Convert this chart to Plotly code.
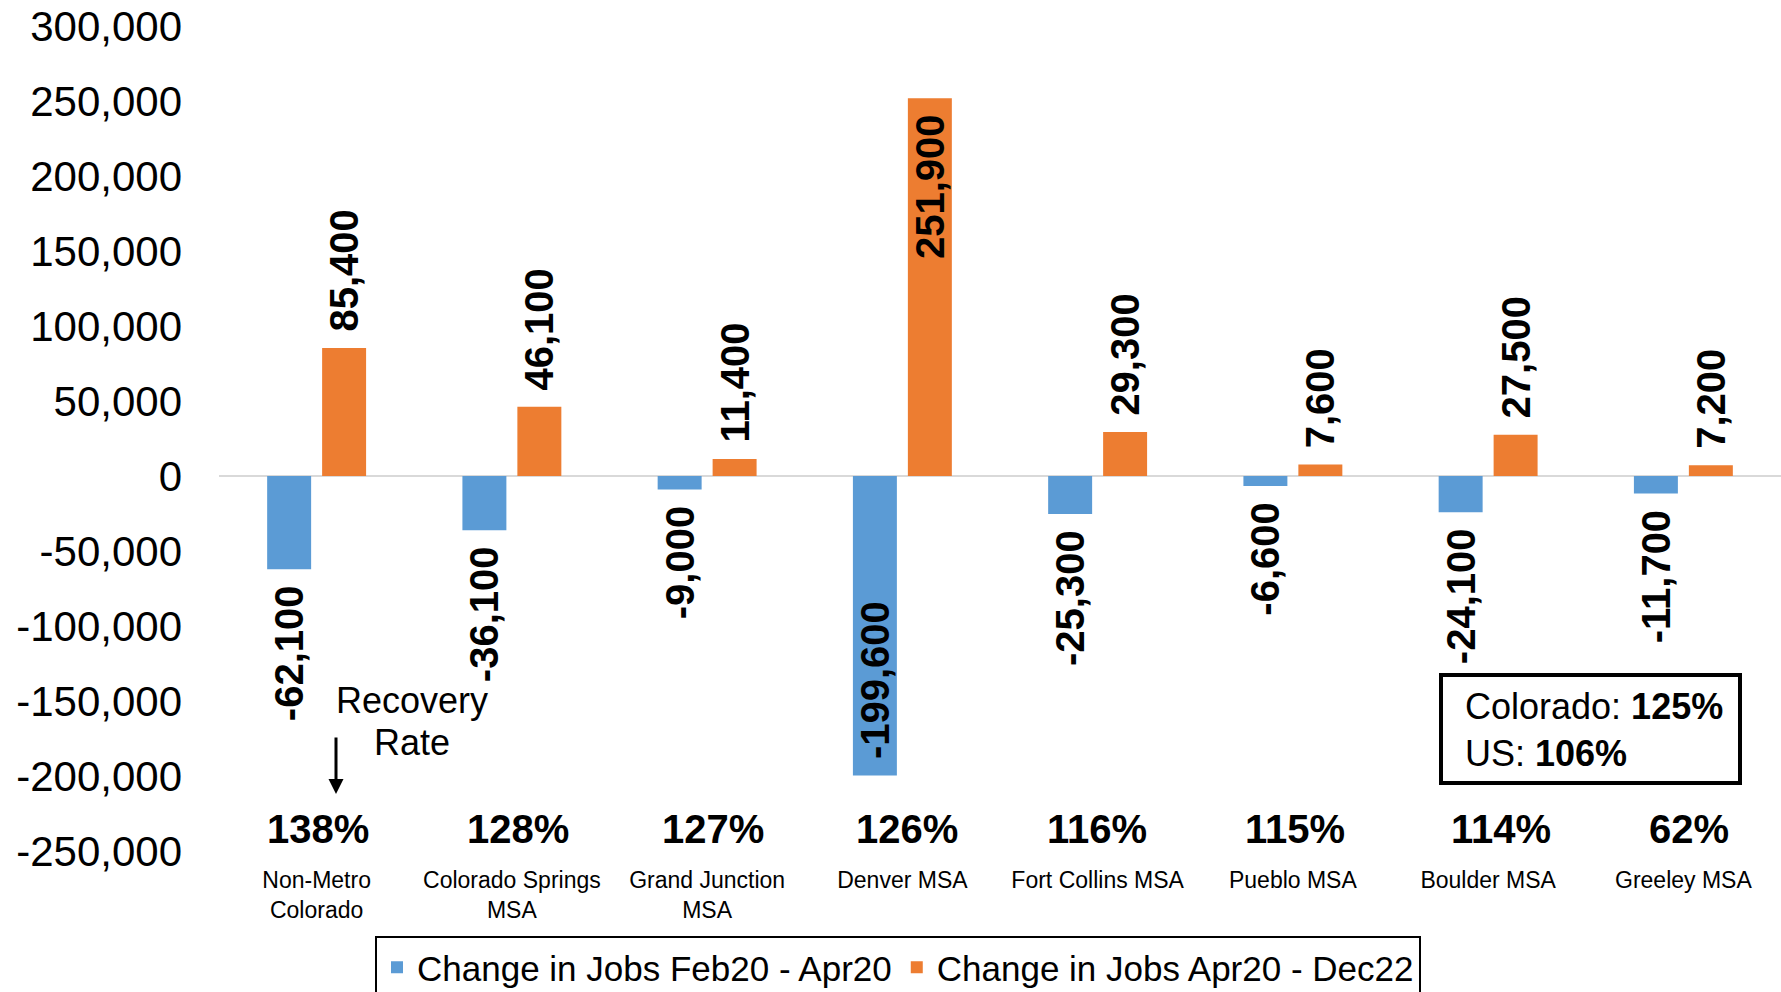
import plotly.graph_objects as go

categories = ["Non-Metro Colorado", "Colorado Springs MSA", "Grand Junction MSA", "Denver MSA",
              "Fort Collins MSA", "Pueblo MSA", "Boulder MSA", "Greeley MSA"]
tick_labels = ["Non-Metro<br>Colorado", "Colorado Springs<br>MSA", "Grand Junction<br>MSA", "Denver MSA",
               "Fort Collins MSA", "Pueblo MSA", "Boulder MSA", "Greeley MSA"]
loss_feb_apr20 = [-62100, -36100, -9000, -199600, -25300, -6600, -24100, -11700]
gain_apr20_dec22 = [85400, 46100, 11400, 251900, 29300, 7600, 27500, 7200]
recovery_rate = ["138%", "128%", "127%", "126%", "116%", "115%", "114%", "62%"]
y_ticks = [-250000, -200000, -150000, -100000, -50000, 0, 50000, 100000, 150000, 200000, 250000, 300000]
colorado_rate = "125%"
us_rate = "106%"

FONT = "Liberation Sans, Arial, sans-serif"
BLUE = "#5B9BD5"
ORANGE = "#ED7D31"

# page geometry (body margin removed below, so figure fills the page)
PAGE_W, PAGE_H = 1781, 992
OFF = 0
W, H = PAGE_W - OFF, PAGE_H - OFF
PL, PT, PB = 219, 26, 851          # plot area in page pixels
L, T, B, R = PL - OFF, PT - OFF, PAGE_H - PB, 0
PW, PH = W - L - R, H - T - B


def px(x):
    return (x - PL) / PW


def py(y):
    return (PB - y) / PH


def fmt(v):
    return f"{v:,}"


SP = "\u2004"
inside_idx = [i for i, v in enumerate(gain_apr20_dec22) if v == max(gain_apr20_dec22)]

loss_text, loss_pos = [], []
for i, v in enumerate(loss_feb_apr20):
    if i in inside_idx:
        loss_text.append(SP + fmt(v))
        loss_pos.append("inside")
    else:
        loss_text.append(fmt(v) + SP)
        loss_pos.append("outside")

gain_text, gain_pos = [], []
for i, v in enumerate(gain_apr20_dec22):
    if i in inside_idx:
        gain_text.append(fmt(v) + SP)
        gain_pos.append("inside")
    else:
        gain_text.append(SP + fmt(v))
        gain_pos.append("outside")

label_font = dict(family=FONT, size=40, color="black", weight="bold")

fig = go.Figure()
fig.add_trace(go.Bar(
    x=categories, y=loss_feb_apr20, name="Change in Jobs Feb20 - Apr20",
    marker=dict(color=BLUE, line=dict(width=0)),
    text=loss_text, textposition=loss_pos, textangle=-90,
    insidetextanchor="end", constraintext="none", cliponaxis=False,
    textfont=label_font, insidetextfont=label_font, outsidetextfont=label_font,
    hoverinfo="skip",
))
fig.add_trace(go.Bar(
    x=categories, y=gain_apr20_dec22, name="Change in Jobs Apr20 - Dec22",
    marker=dict(color=ORANGE, line=dict(width=0)),
    text=gain_text, textposition=gain_pos, textangle=-90,
    insidetextanchor="end", constraintext="none", cliponaxis=False,
    textfont=label_font, insidetextfont=label_font, outsidetextfont=label_font,
    hoverinfo="skip",
))

pct_xshift = [1, 6, 6, 5, -1, 2, 13, 6]
annotations = []
for c, r, dx in zip(categories, recovery_rate, pct_xshift):
    annotations.append(dict(
        x=c, xref="x", y=py(829), yref="paper", text=f"<b>{r}</b>", showarrow=False,
        xanchor="center", yanchor="middle", xshift=dx,
        font=dict(family=FONT, size=40, color="black"),
    ))

annotations.append(dict(
    x=px(412), y=py(700), xref="paper", yref="paper", text="Recovery",
    showarrow=False, xanchor="center", yanchor="middle",
    font=dict(family=FONT, size=36, color="black"),
))
annotations.append(dict(
    x=px(412), y=py(742), xref="paper", yref="paper", text="Rate",
    showarrow=False, xanchor="center", yanchor="middle",
    font=dict(family=FONT, size=36, color="black"),
))
annotations.append(dict(
    x=px(336), y=py(794), xref="paper", yref="paper", text="", showarrow=True,
    ax=0, ay=-58, arrowhead=2, arrowsize=1, arrowwidth=3, arrowcolor="black",
))
annotations.append(dict(
    x=px(1463), y=py(730), xref="paper", yref="paper",
    text=f"Colorado: <b>{colorado_rate}</b><br>US: <b>{us_rate}</b>",
    showarrow=False, xanchor="left", yanchor="middle", align="left",
    font=dict(family=FONT, size=36, color="black"),
))

fig.update_layout(
    width=W, height=H, autosize=False,
    margin=dict(l=L, r=R, t=T, b=B, pad=0, autoexpand=False),
    paper_bgcolor="white", plot_bgcolor="white",
    barmode="group", bargap=0.437, bargroupgap=0.2,
    font=dict(family=FONT, color="black"),
    showlegend=True,
    legend=dict(
        orientation="h", xref="container", yref="container",
        x=(898 - OFF) / W, xanchor="center", y=(PAGE_H - 936) / H, yanchor="top",
        font=dict(family=FONT, size=35, color="black"),
        bordercolor="black", borderwidth=2, bgcolor="white",
        itemclick=False, itemdoubleclick=False, traceorder="normal",
    ),
    xaxis=dict(
        tickmode="array", tickvals=categories, ticktext=tick_labels,
        showgrid=False, showline=False, zeroline=False, ticks="",
        tickfont=dict(family=FONT, size=23, color="black"),
        ticklabelstandoff=13, ticklabeloverflow="allow",
    ),
    yaxis=dict(
        range=[-250000, 300000], tickmode="array", tickvals=y_ticks,
        ticktext=[fmt(v) for v in y_ticks],
        showgrid=False, showline=False, ticks="",
        zeroline=True, zerolinecolor="#D9D9D9", zerolinewidth=2,
        tickfont=dict(family=FONT, size=42, color="black"),
        ticklabelstandoff=36, ticklabeloverflow="allow",
    ),
    shapes=[dict(
        type="rect", xref="paper", yref="paper",
        x0=px(1441), x1=px(1740), y0=py(783), y1=py(675),
        line=dict(color="black", width=4), fillcolor="rgba(0,0,0,0)",
    )],
    annotations=annotations,
)

fig.write_html(
    "out.html",
    config={"displayModeBar": False, "staticPlot": True},
    post_script="document.body.style.margin='0';document.body.style.overflow='hidden';",
)
